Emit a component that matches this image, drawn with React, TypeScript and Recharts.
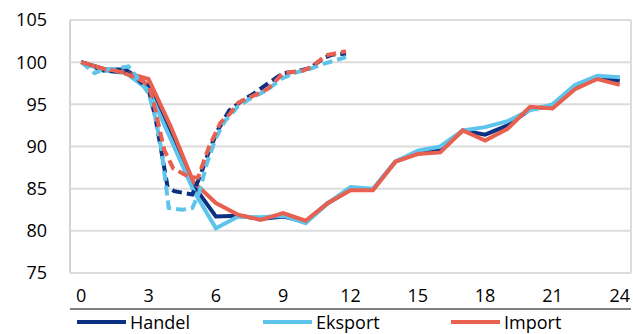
import React from "react";
import { LineChart, Line, XAxis, YAxis, CartesianGrid, Legend, ReferenceLine } from "recharts";

const months = [0, 1, 2, 3, 4, 5, 6, 7, 8, 9, 10, 11, 12, 13, 14, 15, 16, 17, 18, 19, 20, 21, 22, 23, 24];
const handel = [100, 99.2, 99.1, 97.2, 91.5, 85.4, 81.7, 81.8, 81.4, 81.7, 81.1, 83.3, 84.9, 84.9, 88.2, 89.3, 89.5, 91.9, 91.4, 92.5, 94.4, 94.8, 97.0, 98.2, 97.8];
const eksport = [100, 99.0, 98.7, 96.7, 90.8, 84.8, 80.3, 81.7, 81.6, 81.8, 80.9, 83.3, 85.2, 85.0, 88.2, 89.5, 90.0, 91.9, 92.3, 93.0, 94.3, 95.0, 97.3, 98.4, 98.2];
const importVals = [100, 99.2, 98.75, 98.0, 92.3, 85.8, 83.3, 81.9, 81.3, 82.1, 81.2, 83.3, 84.8, 84.8, 88.2, 89.1, 89.3, 91.9, 90.7, 92.1, 94.7, 94.5, 96.8, 98.0, 97.3];

const handelDashX = [0, 0.5, 1, 1.5, 2, 2.5, 3, 3.3, 3.6, 3.85, 4.15, 4.95, 5.3, 5.7, 6.1, 6.6, 7.1, 7.7, 8.5, 9.0, 9.6, 10.2, 10.8, 11.2, 11.8];
const handelDashY = [100, 99.5, 99.0, 98.9, 98.8, 98.0, 96.8, 93.5, 89, 85.2, 84.7, 84.3, 86.5, 89.5, 92.0, 94.3, 95.3, 96.3, 97.8, 98.7, 98.9, 99.3, 100.5, 100.9, 101.0];
const eksportDashX = [0, 0.6, 1, 1.5, 2.1, 2.5, 3, 3.3, 3.55, 3.75, 3.9, 4.5, 4.95, 5.25, 5.6, 6.0, 6.4, 7.0, 7.6, 8.3, 8.9, 9.6, 10.2, 10.8, 11.8];
const eksportDashY = [100, 98.7, 99.2, 99.2, 99.5, 98.2, 96.3, 93.5, 90, 86, 82.7, 82.5, 82.7, 84.5, 88.0, 91.0, 93.0, 94.8, 95.8, 96.7, 98.0, 98.8, 99.2, 99.8, 100.6];
const importDashX = [0, 0.5, 1, 1.5, 2, 2.5, 3, 3.2, 3.7, 4.1, 4.8, 5.2, 5.7, 6.2, 6.6, 7.0, 7.9, 8.3, 9.0, 9.9, 10.3, 10.9, 11.8];
const importDashY = [100, 99.6, 99.2, 99.0, 98.6, 98.1, 97.3, 95.5, 89.6, 87.4, 86.4, 86.3, 90.0, 92.8, 93.8, 95.2, 96.3, 96.8, 98.7, 99.0, 99.5, 100.8, 101.3];

const xLabelTicks = [0, 3, 6, 9, 12, 15, 18, 21, 24];
const xBoundaryTicks = [-0.5, 2.5, 5.5, 8.5, 11.5, 14.5, 17.5, 20.5, 23.5];
const yTicks = [75, 80, 85, 90, 95, 100, 105];
const legendNames = ["Handel", "Eksport", "Import"];

const COLORS = ["#0c3183", "#5ec4ec", "#e8604f"];
const FONT = "'Open Sans', sans-serif";

const toPoints = (xs: number[], ys: number[]) => xs.map((x, i) => ({ x, v: ys[i] }));

const solidSeries = [
  toPoints(months, handel),
  toPoints(months, eksport),
  toPoints(months, importVals),
];
const dashSeries = [
  toPoints(handelDashX, handelDashY),
  toPoints(eksportDashX, eksportDashY),
  toPoints(importDashX, importDashY),
];

const legendLefts = [77, 263, 451];

const LegendContent = () => (
  <div style={{ position: "relative", height: 24, width: 633, fontFamily: FONT, fontSize: 18, color: "#000" }}>
    {legendNames.map((name, i) => (
      <div key={name} style={{ position: "absolute", left: legendLefts[i], top: 0, height: 24, display: "flex", alignItems: "center" }}>
        <div style={{ width: 49, height: 4, background: COLORS[i], marginRight: 4 }} />
        <span style={{ lineHeight: "24px" }}>{name}</span>
      </div>
    ))}
  </div>
);

export default function App() {
  return (
    <div style={{ position: "absolute", left: 0, top: 0, background: "#fff" }}>
      <LineChart width={633} height={334} margin={{ top: 20, right: 2, bottom: 0, left: 0 }}>
        <CartesianGrid horizontal vertical={false} stroke="#dcdcdc" strokeWidth={2} />
        <XAxis
          xAxisId="b"
          type="number"
          dataKey="x"
          domain={[-0.5, 24.5]}
          ticks={xBoundaryTicks}
          interval={0}
          tick={false}
          height={1}
          axisLine={{ stroke: "#555", strokeWidth: 1.5 }}
          tickLine={{ stroke: "#555", strokeWidth: 1.5 }}
          tickSize={7}
          allowDataOverflow
        />
        <XAxis
          type="number"
          dataKey="x"
          domain={[-0.5, 24.5]}
          ticks={xLabelTicks}
          interval={0}
          height={36}
          axisLine={false}
          tickLine={false}
          tickMargin={10}
          tick={{ fill: "#000", fontSize: 18, fontFamily: FONT }}
          allowDataOverflow
        />
        <YAxis
          type="number"
          domain={[75, 105]}
          ticks={yTicks}
          interval={0}
          width={70}
          axisLine={{ stroke: "#d4d4d4", strokeWidth: 2 }}
          tickLine={false}
          tickMargin={17}
          tick={{ fill: "#000", fontSize: 18, fontFamily: FONT }}
        />
        <ReferenceLine x={24.5} stroke="#dcdcdc" strokeWidth={2} />
        {solidSeries.map((d, i) => (
          <Line
            key={"s" + i}
            data={d}
            dataKey="v"
            name={legendNames[i]}
            type="linear"
            stroke={COLORS[i]}
            strokeWidth={4}
            dot={false}
            activeDot={false}
            isAnimationActive={false}
          />
        ))}
        {dashSeries.map((d, i) => (
          <Line
            key={"d" + i}
            data={d}
            dataKey="v"
            legendType="none"
            type="linear"
            stroke={COLORS[i]}
            strokeWidth={4}
            strokeDasharray="10 5"
            dot={false}
            activeDot={false}
            isAnimationActive={false}
          />
        ))}
        <Legend verticalAlign="bottom" align="left" height={24} content={<LegendContent />} wrapperStyle={{ left: 0, width: 633 }} />
      </LineChart>
    </div>
  );
}
